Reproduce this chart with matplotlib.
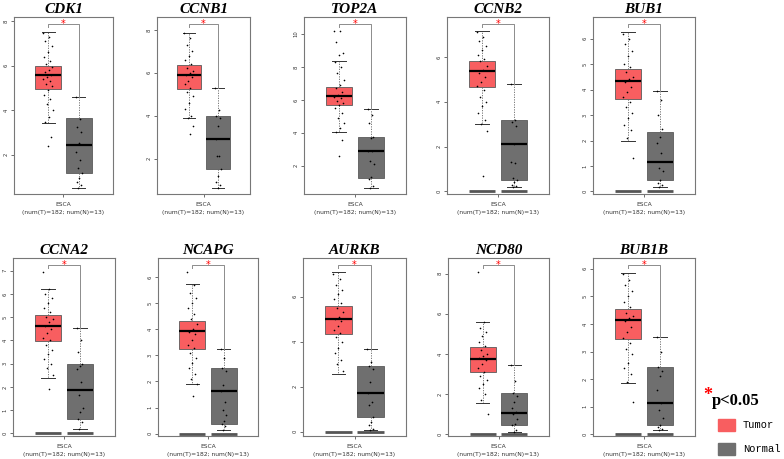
import numpy as np
import matplotlib.pyplot as plt
from matplotlib.patches import Rectangle

# box statistics: (whislo, q1, med, q3, whishi)
genes = ["CDK1", "CCNB1", "TOP2A", "CCNB2", "BUB1",
         "CCNA2", "NCAPG", "AURKB", "NCD80", "BUB1B"]

tumor_stats = [(3.44, 4.97, 5.60, 6.00, 7.52),
               (3.90, 5.26, 5.90, 6.35, 7.85),
               (4.02, 5.68, 6.24, 6.80, 8.38),
               (3.00, 4.64, 5.36, 5.81, 7.16),
               (1.98, 3.64, 4.33, 4.80, 6.26),
               (2.39, 3.96, 4.61, 5.11, 6.21),
               (1.90, 3.23, 3.93, 4.31, 5.74),
               (2.57, 4.36, 4.99, 5.58, 7.09),
               (1.54, 3.07, 3.76, 4.32, 5.61),
               (1.85, 3.47, 4.14, 4.56, 5.86)]

normal_stats = [(0.50, 1.15, 2.42, 3.63, 4.60),
                (0.65, 1.52, 2.92, 4.00, 5.28),
                (0.66, 1.23, 2.90, 3.77, 5.43),
                (0.18, 0.49, 2.13, 3.17, 4.81),
                (0.17, 0.46, 1.15, 2.35, 3.94),
                (0.20, 0.60, 1.86, 3.00, 4.54),
                (0.13, 0.36, 1.65, 2.51, 3.26),
                (0.06, 0.67, 1.72, 2.91, 3.66),
                (0.08, 0.44, 1.07, 2.07, 3.44),
                (0.15, 0.34, 1.13, 2.43, 3.53)]

# visible tumor dots (estimated, incl. outliers)
tumor_pts = [
    [7.5, 7.3, 7.1, 6.9, 6.6, 6.4, 6.2, 6.1, 5.95, 5.8, 5.7, 5.6, 5.5, 5.4, 5.3, 5.2, 5.1, 4.9, 4.7, 4.5, 4.3, 4.0, 3.7, 3.45, 2.8, 2.39],
    [7.85, 7.6, 7.3, 7.0, 6.8, 6.6, 6.4, 6.2, 6.1, 6.0, 5.9, 5.8, 5.6, 5.5, 5.3, 5.1, 4.9, 4.6, 4.3, 4.0, 3.9, 3.5, 3.15],
    [10.2, 10.15, 9.5, 8.85, 8.75, 8.3, 8.0, 7.6, 7.2, 6.9, 6.7, 6.5, 6.3, 6.2, 6.1, 5.9, 5.8, 5.7, 5.5, 5.2, 4.9, 4.6, 4.3, 4.05, 3.55, 2.6],
    [7.1, 6.9, 6.7, 6.5, 6.3, 6.1, 5.9, 5.8, 5.6, 5.4, 5.3, 5.1, 4.9, 4.7, 4.5, 4.2, 4.0, 3.8, 3.5, 3.2, 3.0, 2.7, 0.67],
    [6.2, 6.0, 5.8, 5.5, 5.3, 5.0, 4.9, 4.7, 4.5, 4.4, 4.3, 4.1, 3.9, 3.7, 3.5, 3.3, 3.1, 2.9, 2.6, 2.4, 2.1, 1.3],
    [6.92, 6.2, 6.0, 5.8, 5.6, 5.4, 5.2, 5.0, 4.9, 4.8, 4.6, 4.5, 4.3, 4.1, 4.0, 3.8, 3.6, 3.4, 3.2, 3.0, 2.8, 2.5, 1.89],
    [6.18, 5.7, 5.4, 5.2, 5.0, 4.8, 4.6, 4.4, 4.2, 4.0, 3.9, 3.8, 3.6, 3.4, 3.3, 3.1, 2.9, 2.7, 2.5, 2.3, 2.1, 1.9, 1.45],
    [7.0, 6.8, 6.5, 6.3, 6.1, 5.9, 5.7, 5.5, 5.3, 5.1, 5.0, 4.9, 4.7, 4.5, 4.4, 4.2, 4.0, 3.7, 3.5, 3.2, 3.0, 2.7],
    [8.07, 5.6, 5.3, 5.1, 4.9, 4.6, 4.4, 4.2, 4.0, 3.9, 3.8, 3.7, 3.5, 3.3, 3.1, 2.9, 2.7, 2.5, 2.3, 2.0, 1.7, 0.98],
    [5.8, 5.6, 5.4, 5.2, 5.0, 4.8, 4.6, 4.4, 4.3, 4.2, 4.1, 3.9, 3.7, 3.5, 3.3, 3.1, 2.9, 2.6, 2.4, 2.2, 1.9, 1.19]]

normal_pts = [
    [4.6, 3.62, 3.25, 3.0, 2.5, 2.1, 1.75, 1.4, 1.15, 0.92, 0.77, 0.62, 0.5],
    [5.28, 4.25, 4.0, 3.9, 3.5, 2.9, 2.1, 2.1, 1.5, 1.2, 0.9, 0.75, 0.65],
    [5.43, 5.1, 4.6, 3.77, 3.7, 2.9, 2.9, 2.3, 2.1, 1.3, 1.2, 0.75, 0.66],
    [4.81, 3.17, 3.1, 2.9, 2.13, 1.3, 1.25, 0.6, 0.49, 0.4, 0.3, 0.25, 0.18],
    [3.94, 3.59, 3.0, 2.44, 2.15, 1.89, 1.5, 0.94, 0.81, 0.46, 0.33, 0.26, 0.17],
    [4.54, 4.0, 3.5, 3.0, 2.9, 2.75, 2.2, 1.65, 1.1, 0.9, 0.6, 0.5, 0.2],
    [3.26, 2.9, 2.5, 2.4, 1.85, 1.65, 1.2, 0.9, 0.7, 0.5, 0.36, 0.3, 0.13],
    [3.66, 3.1, 2.9, 2.8, 2.2, 1.72, 1.3, 1.2, 0.67, 0.45, 0.3, 0.1, 0.06],
    [3.44, 2.65, 2.07, 1.9, 1.6, 1.3, 1.1, 1.0, 0.75, 0.5, 0.44, 0.2, 0.08],
    [3.53, 3.0, 2.43, 2.3, 2.1, 1.6, 1.13, 0.9, 0.6, 0.34, 0.25, 0.2, 0.15]]

ylims = [(0.22, 8.2), (0.35, 8.6), (0.28, 11.03), (-0.12, 7.78), (-0.1, 6.85),
         (-0.11, 7.54), (-0.09, 6.73), (-0.19, 7.72), (-0.1, 8.78), (-0.06, 6.39)]
yticks = [[2, 4, 6, 8], [2, 4, 6, 8], [2, 4, 6, 8, 10], [0, 2, 4, 6], [0, 1, 2, 3, 4, 5, 6],
          [0, 1, 2, 3, 4, 5, 6, 7], [0, 1, 2, 3, 4, 5, 6], [0, 2, 4, 6], [0, 2, 4, 6, 8],
          [0, 1, 2, 3, 4, 5, 6]]
zero_bar = [False, False, False, True, True, True, True, True, True, True]

xlabel = "ESCA\n(num(T)=182; num(N)=13)"

TUMOR = "#f85e60"
NORMAL = "#6f6f6f"

W, H = 784, 459
fig = plt.figure(figsize=(W / 100, H / 100), dpi=100)

# pixel frames of the panels
cols = [[(14, 113), (157, 250), (304, 406), (447, 549), (593, 695)],
        [(13, 115), (158, 258), (303, 406), (448, 549), (593, 695)]]
rows = [(17, 194), (258, 436)]

pos = [1, 2]
bw = 0.83
offs_base = np.arange(200) * 0.618 % 1 - 0.5

for i, g in enumerate(genes):
    r, c = divmod(i, 5)
    x0, x1 = cols[r][c]
    y0, y1 = rows[r]
    ax = fig.add_axes([x0 / W, 1 - y1 / H, (x1 - x0) / W, (y1 - y0) / H])

    stats = []
    for s in (tumor_stats[i], normal_stats[i]):
        stats.append(dict(whislo=s[0], q1=s[1], med=s[2], q3=s[3], whishi=s[4], fliers=[]))
    bp = ax.bxp(stats, positions=pos, widths=bw, patch_artist=True, showfliers=False,
                capwidths=0.42,
                boxprops=dict(edgecolor="#5a5a5a", linewidth=0.6),
                medianprops=dict(color="black", linewidth=1.6),
                whiskerprops=dict(color="#666666", linewidth=0.6, linestyle=(0, (1.5, 1.5))),
                capprops=dict(color="#333333", linewidth=0.7))
    bp["boxes"][0].set_facecolor(TUMOR)
    bp["boxes"][1].set_facecolor(NORMAL)

    if zero_bar[i]:
        for p in pos:
            ax.hlines(0, p - bw / 2, p + bw / 2, color="#555555", lw=2.0, zorder=3)

    tp = np.array(tumor_pts[i])
    ax.scatter(1 + offs_base[:len(tp)] * 0.32, tp, s=1.4, color="black", lw=0, zorder=4)
    npts = np.array(normal_pts[i])
    ax.scatter(2 + offs_base[:len(npts)] * 0.2, npts, s=1.5, color="black", lw=0, zorder=4)

    lo, hi = ylims[i]
    rng = hi - lo
    yb = hi - 0.038 * rng
    ax.plot([1, 1, 2, 2], [yb - 0.02 * rng, yb, yb, normal_stats[i][4]],
            color="#8c8c8c", lw=0.7, zorder=2)
    ax.text(1.5, yb - 0.004 * rng, "*", color="red", fontsize=7, ha="center", va="center")

    ax.set_xlim(-0.1, 3.1)
    ax.set_ylim(lo, hi)
    ax.set_yticks(yticks[i])
    ax.set_yticklabels([str(t) for t in yticks[i]], rotation=90, va="center", fontsize=3.8)
    ax.set_xticks([1.5])
    ax.set_xticklabels([xlabel], fontsize=4.3, color="#333333", linespacing=1.7)
    ax.tick_params(length=2, width=0.5, pad=2, colors="#333333")
    ax.tick_params(axis="x", pad=4)
    for sp in ax.spines.values():
        sp.set_color("#777777")
        sp.set_linewidth(0.8)
    ax.set_title(g, fontsize=11, fontweight="bold", style="italic",
                 family="Liberation Serif", pad=3)

# legend
fig.text(712 / W, 1 - 396 / H, "*", color="red", fontsize=13, family="Liberation Serif",
         fontweight="bold", ha="right", va="center")
fig.text(712 / W, 1 - 401 / H, "p<0.05", color="black", fontsize=12, family="Liberation Serif",
         fontweight="bold", ha="left", va="center")
fig.patches.append(Rectangle((718 / W, 1 - 431 / H), 17 / W, 12 / H,
                             transform=fig.transFigure, color=TUMOR))
fig.patches.append(Rectangle((718 / W, 1 - 455 / H), 17 / W, 12 / H,
                             transform=fig.transFigure, color=NORMAL))
fig.text(743 / W, 1 - 425 / H, "Tumor", fontsize=7.5, family="Liberation Mono", va="center")
fig.text(743 / W, 1 - 449 / H, "Normal", fontsize=7.5, family="Liberation Mono", va="center")

fig.savefig("out.png", dpi=100)
